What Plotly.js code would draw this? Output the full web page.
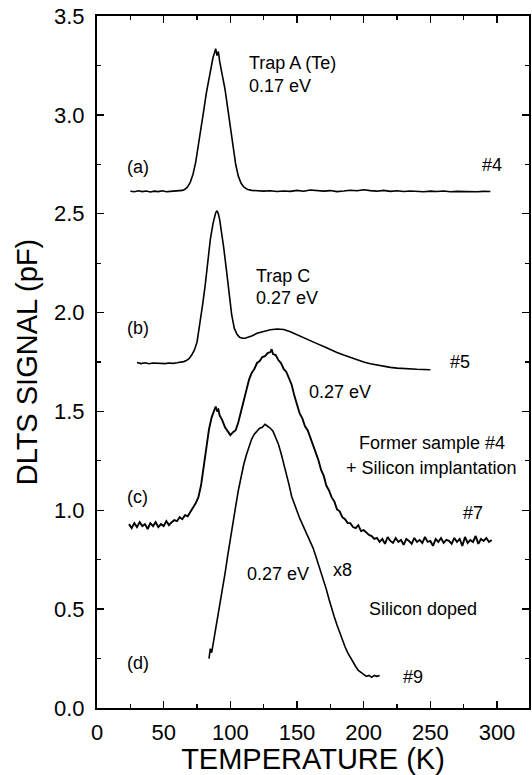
<!DOCTYPE html>
<html>
<head>
<meta charset="utf-8">
<script src="https://cdn.plot.ly/plotly-3.0.1.min.js"></script>
<style>html,body{margin:0;padding:0;background:#fff;}#chart{width:532px;height:775px;}</style>
</head>
<body>
<div id="chart"></div>
<script>
// Curve (a) sample #4
const aT = [25,28,31,34,37,40,43,46,49,52,55,58,61,64,
  66,68,70,72,74,76,78,80,82,84,
  85,86,87,88,89,90,91,92,93,94,
  96,98,100,102,104,106,108,110,
  113,116,120,
  125,130,135,140,145,150,155,160,165,170,175,180,185,190,195,200,205,210,215,220,225,230,235,240,245,250,255,260,265,270,275,280,285,290,295];
const aV = [2.614,2.611,2.616,2.612,2.615,2.610,2.614,2.612,2.616,2.611,2.613,2.615,2.614,2.618,
  2.624,2.636,2.66,2.70,2.76,2.84,2.93,3.02,3.11,3.19,
  3.23,3.27,3.29,3.31,3.335,3.30,3.32,3.27,3.24,3.20,
  3.13,3.03,2.93,2.83,2.75,2.69,2.655,2.635,
  2.622,2.618,2.616,
  2.614,2.616,2.612,2.615,2.613,2.618,2.614,2.620,2.616,2.614,2.617,2.612,2.615,2.619,2.616,2.621,2.617,2.614,2.618,2.613,2.616,2.612,2.615,2.613,2.611,2.614,2.612,2.615,2.611,2.613,2.612,2.614,2.611,2.613,2.612];

// Curve (b) sample #5
const bT = [30,33,36,39,42,45,48,51,54,57,60,63,
  65,67,69,71,73,75,77,79,81,83,85,87,
  88,89,90,91,92,93,
  95,97,99,101,103,105,107,109,111,113,
  116,120,
  125,130,135,140,145,150,155,160,165,170,175,180,185,190,195,200,205,210,215,220,225,230,235,240,245,250];
const bV = [1.748,1.742,1.746,1.741,1.745,1.743,1.744,1.742,1.745,1.743,1.746,1.748,
  1.752,1.757,1.767,1.785,1.81,1.85,1.93,2.03,2.13,2.25,2.37,2.45,
  2.48,2.505,2.515,2.50,2.47,2.43,
  2.33,2.22,2.10,1.99,1.92,1.89,1.875,1.870,1.870,1.874,
  1.882,1.895,
  1.905,1.913,1.917,1.914,1.903,1.889,1.874,1.858,1.843,1.828,1.812,1.798,1.785,1.772,1.760,1.750,1.741,1.734,1.728,1.723,1.719,1.716,1.714,1.713,1.712,1.711];

// Curve (c) sample #7
const cT = [24,26,28,30,32,34,36,38,40,42,44,46,48,50,52,54,56,58,60,62,64,66,68,70,
  72,74,76,78,80,82,84,86,88,
  89,90,91,92,
  94,96,98,100,102,104,106,108,110,112,114,116,118,120,122,124,126,128,130,
  131,132,
  134,136,138,140,142,144,146,148,150,152,154,156,158,160,162,164,166,168,170,172,174,176,178,180,182,184,186,188,190,192,194,196,198,200,
  202,204,206,208,210,212,214,216,218,220,222,224,226,228,230,232,234,236,238,240,242,244,246,248,250,252,254,256,258,260,262,264,266,268,270,272,274,276,278,280,282,284,286,288,290,292,294,296];
const cV = [0.93,0.91,0.935,0.915,0.94,0.92,0.93,0.905,0.935,0.92,0.94,0.915,0.93,0.92,0.945,0.925,0.94,0.95,0.945,0.965,0.955,0.975,0.97,0.99,
  1.01,1.035,1.065,1.125,1.22,1.32,1.41,1.47,1.51,
  1.525,1.505,1.51,1.48,
  1.455,1.42,1.40,1.38,1.395,1.405,1.445,1.50,1.56,1.62,1.66,1.695,1.715,1.745,1.755,1.775,1.78,1.795,1.80,
  1.815,1.79,
  1.785,1.76,1.745,1.715,1.70,1.665,1.635,1.58,1.535,1.49,1.465,1.425,1.405,1.37,1.335,1.29,1.255,1.205,1.175,1.125,1.10,1.065,1.045,1.005,0.995,0.965,0.955,0.935,0.935,0.915,0.91,0.925,0.895,0.90,
  0.885,0.875,0.87,0.855,0.86,0.84,0.855,0.83,0.865,0.845,0.835,0.86,0.84,0.85,0.825,0.855,0.845,0.83,0.86,0.84,0.85,0.835,0.865,0.84,0.845,0.82,0.855,0.84,0.86,0.835,0.85,0.845,0.83,0.86,0.84,0.855,0.82,0.865,0.835,0.85,0.84,0.87,0.83,0.855,0.845,0.86,0.84,0.85];

// Curve (d) sample #9 (x8)
const dT = [84,85,86,87,88,89,90,
  92,94,96,98,100,102,104,106,108,110,112,114,116,118,120,122,124,126,128,130,132,134,136,138,140,
  142,144,146,148,150,152,154,156,158,160,162,164,166,168,170,172,174,176,178,180,182,184,186,188,190,192,194,196,198,200,202,204,206,208,210,212];
const dV = [0.25,0.30,0.28,0.33,0.36,0.40,0.44,
  0.50,0.59,0.68,0.77,0.86,0.94,1.02,1.10,1.17,1.23,1.28,1.325,1.36,1.385,1.40,1.415,1.42,1.435,1.425,1.415,1.40,1.37,1.335,1.29,1.24,
  1.19,1.13,1.07,1.03,0.99,0.96,0.93,0.90,0.87,0.84,0.81,0.77,0.73,0.69,0.65,0.60,0.55,0.50,0.46,0.42,0.38,0.34,0.31,0.28,0.255,0.23,0.21,0.19,0.18,0.17,0.16,0.165,0.155,0.165,0.16,0.165];

const xTicks = [0,50,100,150,200,250,300];
const yTicks = [0,0.5,1.0,1.5,2.0,2.5,3.0,3.5];
const yTickText = ["0.0","0.5","1.0","1.5","2.0","2.5","3.0","3.5"];

const labelTexts = ["Trap A (Te)","0.17 eV","(a)","#4","Trap C","0.27 eV","(b)","#5","0.27 eV",
  "Former sample #4","+ Silicon implantation","(c)","#7","0.27 eV","x8","Silicon doped","(d)","#9"];

const FONT = "Liberation Sans, Arial, sans-serif";
const line = {color:"#000", width:1.6};
const traces = [
  {x:aT, y:aV, mode:"lines", line:line, name:"(a) #4"},
  {x:bT, y:bV, mode:"lines", line:line, name:"(b) #5"},
  {x:cT, y:cV, mode:"lines", line:{color:"#000", width:1.9}, name:"(c) #7"},
  {x:dT, y:dV, mode:"lines", line:line, name:"(d) #9"}
];

const pos = [
  [112.5,3.264,"left"],[112.5,3.148,"left"],[21,2.734,"left"],[287,2.744,"left"],
  [117.5,2.187,"left"],[117.5,2.072,"left"],[21,1.92,"left"],[263,1.75,"left"],
  [157.5,1.60,"left"],[251.3,1.338,"center"],[250.7,1.215,"center"],[21,1.069,"left"],
  [273,0.985,"left"],[111.2,0.68,"left"],[175.7,0.70,"left"],[244.5,0.50,"center"],
  [21,0.227,"left"],[228,0.157,"left"]
];
const annotations = labelTexts.map((t,i)=>({
  x:pos[i][0], y:pos[i][1], xref:"x", yref:"y", text:t, showarrow:false,
  xanchor:pos[i][2], yanchor:"middle", font:{family:FONT, size:18, color:"#000"}
}));

const layout = {
  width:532, height:775,
  margin:{l:97, r:3, t:16, b:67},
  paper_bgcolor:"#fff", plot_bgcolor:"#fff",
  showlegend:false,
  font:{family:FONT, color:"#000"},
  xaxis:{
    range:[0,324], tickvals:xTicks, ticks:"inside", ticklen:7, tickwidth:1.5, tickcolor:"#000",
    showline:true, linewidth:2, linecolor:"#000", mirror:"allticks", showgrid:false, zeroline:false,
    tickfont:{family:FONT, size:22, color:"#000"}, ticklabelstandoff:4,
    minor:{dtick:25, ticks:"inside", ticklen:4, tickwidth:1.2, tickcolor:"#000", showgrid:false},
    title:{text:"TEMPERATURE (K)", font:{family:FONT, size:29, color:"#000"}, standoff:4}
  },
  yaxis:{
    range:[0,3.5], tickvals:yTicks, ticktext:yTickText, ticks:"inside", ticklen:7, tickwidth:1.5, tickcolor:"#000",
    showline:true, linewidth:2, linecolor:"#000", mirror:"allticks", showgrid:false, zeroline:false,
    tickfont:{family:FONT, size:22, color:"#000"}, ticklabelstandoff:6,
    minor:{dtick:0.25, ticks:"inside", ticklen:4, tickwidth:1.2, tickcolor:"#000", showgrid:false},
    title:{text:"DLTS SIGNAL (pF)", font:{family:FONT, size:29, color:"#000"}, standoff:8}
  },
  annotations:annotations
};
Plotly.newPlot("chart", traces, layout, {staticPlot:true, displayModeBar:false});
</script>
</body>
</html>
